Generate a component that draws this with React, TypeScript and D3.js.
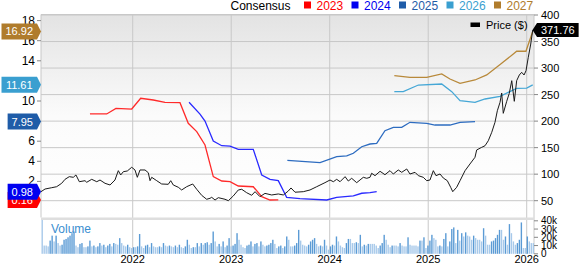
import React from 'react';
import * as d3 from 'd3';

// ---------- DATA ----------
const yearTicks = [2022, 2023, 2024, 2025, 2026];
const epsTicks = [18, 16, 14, 10, 6, 4, 2];
const priceTicks = [50, 100, 150, 200, 250, 300, 350, 400];
const volTicks = [0, 10, 20, 30, 40];
const volTickLabels = ['0', '10k', '20k', '30k', '40k'];

const priceDates = [2021.069, 2021.110, 2021.178, 2021.228, 2021.279, 2021.313, 2021.356, 2021.397, 2021.424, 2021.458, 2021.516, 2021.533, 2021.584, 2021.635, 2021.668, 2021.719, 2021.770, 2021.820, 2021.854, 2021.878, 2021.905, 2021.945, 2021.990, 2022.023, 2022.047, 2022.074, 2022.125, 2022.158, 2022.176, 2022.193, 2022.244, 2022.294, 2022.361, 2022.386, 2022.412, 2022.463, 2022.497, 2022.548, 2022.609, 2022.650, 2022.701, 2022.751, 2022.785, 2022.802, 2022.836, 2022.869, 2022.937, 2022.971, 2023.021, 2023.072, 2023.107, 2023.157, 2023.208, 2023.242, 2023.292, 2023.343, 2023.411, 2023.478, 2023.529, 2023.580, 2023.607, 2023.648, 2023.732, 2023.800, 2023.868, 2023.952, 2024.003, 2024.037, 2024.071, 2024.105, 2024.156, 2024.189, 2024.223, 2024.274, 2024.341, 2024.376, 2024.409, 2024.426, 2024.460, 2024.511, 2024.561, 2024.612, 2024.646, 2024.696, 2024.731, 2024.782, 2024.815, 2024.866, 2024.900, 2024.950, 2024.985, 2025.018, 2025.052, 2025.079, 2025.120, 2025.153, 2025.194, 2025.228, 2025.249, 2025.289, 2025.323, 2025.374, 2025.424, 2025.475, 2025.492, 2025.543, 2025.577, 2025.610, 2025.645, 2025.678, 2025.702, 2025.729, 2025.746, 2025.762, 2025.797, 2025.823, 2025.848, 2025.874, 2025.898, 2025.925, 2025.949, 2025.973, 2025.993, 2026.016, 2026.041, 2026.061];
const priceValues = [67, 72, 74.5, 76.4, 82.8, 90.3, 95.3, 94.1, 98.5, 85.8, 87.7, 84.7, 90.3, 85.8, 89, 82.8, 79.6, 89, 106.6, 98.5, 104.7, 106, 113, 107.9, 94.1, 107.9, 107.9, 102.8, 87.7, 94.1, 87.7, 81.5, 80.9, 87.7, 79.6, 75.3, 70.2, 76.4, 81.5, 71.5, 60, 52.7, 54.5, 56.4, 51.3, 55.7, 52.7, 50, 58.9, 70.2, 71.5, 65.1, 60.2, 67, 57.6, 63.8, 60.8, 62.7, 60.8, 68.3, 74, 66, 67, 70.2, 76.4, 84, 89, 85.8, 90.3, 85.8, 95.3, 87.1, 92.2, 84, 94.1, 92.2, 94.1, 101.7, 97.2, 105.4, 99, 106.6, 100.3, 107.9, 103.5, 109.8, 100.3, 103.5, 97.2, 94.1, 87.7, 89, 106.6, 97.2, 100.3, 92.8, 87.7, 75.3, 67, 75.3, 87.7, 106.6, 119.2, 131.8, 145.6, 150.6, 153.6, 163, 178.9, 197.8, 219.6, 235.4, 253, 214.7, 237.3, 252.4, 276.2, 237.3, 276.2, 286.9, 292, 286.9, 295, 320.3, 345.3, 371.76];

const eps2023Dates = [2021.566, 2021.736, 2021.830, 2021.990, 2022.081, 2022.209, 2022.328, 2022.480, 2022.564, 2022.650, 2022.734, 2022.818, 2022.904, 2022.988, 2023.072, 2023.224, 2023.310, 2023.394, 2023.478];
const eps2023Values = [8.71, 8.71, 9.27, 9.2, 10.27, 10.1, 9.87, 9.83, 7.78, 6.95, 5.62, 2.47, 2.04, 1.97, 1.54, 1.47, 0.48, 0.15, 0.16];

const eps2024Dates = [2022.572, 2022.683, 2022.734, 2022.818, 2022.904, 2022.988, 2023.072, 2023.224, 2023.310, 2023.394, 2023.478, 2023.563, 2023.698, 2023.970, 2024.071, 2024.240, 2024.325, 2024.409, 2024.477];
const eps2024Values = [9.87, 8.7, 8.0, 6.02, 5.55, 5.52, 5.19, 5.19, 2.64, 2.21, 2.07, 0.42, 0.28, 0.15, 0.42, 0.55, 0.82, 0.88, 0.98];

const eps2025Dates = [2023.570, 2023.902, 2024.071, 2024.173, 2024.240, 2024.325, 2024.409, 2024.477, 2024.561, 2024.646, 2024.731, 2024.815, 2024.985, 2025.069, 2025.221, 2025.323, 2025.475];
const eps2025Values = [4.1, 3.86, 4.46, 4.53, 4.8, 5.45, 5.72, 5.79, 7.04, 7.38, 7.38, 7.88, 7.78, 7.61, 7.61, 7.88, 7.95];

const eps2026Dates = [2024.656, 2024.747, 2024.900, 2025.137, 2025.239, 2025.323, 2025.475, 2025.577, 2025.729, 2025.898, 2026.000, 2026.061];
const eps2026Values = [10.93, 10.93, 11.59, 11.69, 10.93, 10.03, 9.87, 10.2, 10.47, 11.26, 11.29, 11.61];

const eps2027Dates = [2024.656, 2024.815, 2024.985, 2025.137, 2025.221, 2025.323, 2025.475, 2025.594, 2025.746, 2025.864, 2025.898, 2025.992, 2026.061];
const eps2027Values = [12.52, 12.36, 12.36, 12.69, 12.19, 11.76, 12.09, 12.59, 13.75, 14.68, 14.95, 14.95, 16.92];

const volumeValues = [41, 10, 10, 9, 16, 22, 15, 22, 13, 10, 11, 17, 18, 20, 22, 25, 27, 10, 8, 12, 13, 8, 8, 9, 16, 9, 10, 8, 9, 13, 10, 11, 8, 10, 12, 9, 13, 12, 11, 19, 13, 10, 9, 11, 8, 7, 8, 8, 9, 24, 9, 7, 10, 11, 8, 13, 9, 8, 8, 9, 8, 13, 10, 9, 10, 9, 8, 10, 8, 11, 8, 7, 9, 17, 11, 7, 8, 8, 13, 9, 13, 11, 13, 14, 11, 13, 27, 15, 9, 12, 9, 15, 8, 10, 19, 9, 10, 12, 25, 17, 11, 8, 7, 10, 11, 15, 9, 12, 13, 9, 15, 11, 9, 10, 11, 13, 17, 12, 7, 9, 10, 7, 9, 21, 17,
  9, 9, 10, 13, 29, 16, 11, 10, 9, 11, 15, 17, 19, 12, 9, 10, 9, 17, 10, 5, 9, 11, 10, 21, 15, 10, 8, 7, 13, 18, 18, 13, 13, 14, 13, 23, 9, 11, 10, 12, 12, 12, 12, 10, 7, 10, 13, 23, 17, 11, 8, 10, 10, 10, 9, 13, 10, 9, 9, 20, 11, 10, 10, 10, 9, 16, 16, 20, 7, 10, 16, 23, 19, 17, 9, 10, 9, 18, 25, 9, 15, 30, 32, 13, 29, 16, 25, 21, 26, 22, 21, 17, 22, 19, 17, 17, 15, 31, 22, 11, 11, 15, 16, 19, 23, 29, 29, 17, 21, 11, 36, 25, 15, 11, 13, 17, 38, 7, 7, 21, 15, 13, 13];

const legendYears = ['2023', '2024', '2025', '2026', '2027'];
const seriesColors = ['#ff2a2a', '#2a2aff', '#2d6cc0', '#45a7d6', '#b8893a'];
const flagColors = ['#ff0000', '#0000f0', '#1f5ca8', '#3a9fd0', '#b07c2c'];

// ---------- LAYOUT ----------
const W = 579, H = 264;
const L = 41, R = 534, T = 14.5, MB = 217.5, VT = 219.5, VB = 254;
const FONT = 'Liberation Sans, Arial, Helvetica, sans-serif';

const x = d3.scaleLinear().domain([2021.069, 2026.074]).range([L, R]);
const yP = d3.scaleLinear().domain([400, 50]).range([15, 200.7]);
const yE = d3.scaleLinear().domain([10, 2]).range([101, 181.4]);
const yV = d3.scaleLinear().domain([0, 40]).range([253.8, 220.8]);
const xV = d3.scaleBand<number>().domain(volumeValues.map((_, i) => i)).range([L + 0.5, R]).paddingInner(0.3);

function textW(s: string, size: number) {
  let w = 0;
  for (const c of s) w += c === '.' ? 0.278 : 0.556;
  return w * size;
}

function LeftFlag({ v, color }: { v: number; color: string }) {
  const cy = yE(v);
  const label = v.toFixed(2);
  const tw = textW(label, 11);
  const x1 = 37, x0 = x1 - tw - 8, h = 16;
  const d = `M${x0},${cy - h / 2}H${x1}L${x1 + 4},${cy}L${x1},${cy + h / 2}H${x0}Z`;
  return (
    <g>
      <path d={d} fill={color} />
      <text x={(x0 + x1) / 2} y={cy + 4} fill="#fff" fontSize={11} textAnchor="middle" fontFamily={FONT}>{label}</text>
    </g>
  );
}

export default function App() {
  const series = [
    [eps2023Dates, eps2023Values],
    [eps2024Dates, eps2024Values],
    [eps2025Dates, eps2025Values],
    [eps2026Dates, eps2026Values],
    [eps2027Dates, eps2027Values],
  ];
  const mk = (ds: number[], vs: number[], ys: d3.ScaleLinear<number, number>) =>
    d3.line<number>().x((d) => x(d)).y((_, i) => ys(vs[i]))(ds) || '';

  const lastPrice = priceValues[priceValues.length - 1];
  const pY = yP(lastPrice);
  const pLabel = lastPrice.toFixed(2);
  const pw = textW(pLabel, 11) + 8;

  return (
    <svg width={W} height={H} style={{ position: 'absolute', left: 0, top: 0, display: 'block' }} fontFamily={FONT}>
      <defs>
        <linearGradient id="bg" x1="0" y1="0" x2="0" y2="1">
          <stop offset="0" stopColor="#e3e3e3" />
          <stop offset="0.5" stopColor="#fbfbfb" />
          <stop offset="1" stopColor="#ffffff" />
        </linearGradient>
        <clipPath id="clipMain"><rect x={L} y={T} width={R - L} height={MB - T} /></clipPath>
      </defs>
      <rect x={0} y={0} width={W} height={H} fill="#fff" />
      <rect x={L} y={T} width={R - L} height={MB - T} fill="url(#bg)" />

      {priceTicks.map((t) => (
        <line key={'g' + t} x1={L} x2={R} y1={yP(t)} y2={yP(t)} stroke="#c8c8c8" strokeWidth={1} />
      ))}
      {yearTicks.map((t) => (
        <line key={'v' + t} x1={x(t)} x2={x(t)} y1={T} y2={VB} stroke="#c8c8c8" strokeWidth={1} />
      ))}
      <line x1={L} x2={R} y1={T} y2={T} stroke="#c8c8c8" />
      <line x1={L} x2={L} y1={T} y2={MB} stroke="#c8c8c8" />
      <line x1={R} x2={R} y1={T} y2={VB} stroke="#c8c8c8" />
      <rect x={L} y={MB} width={R - L} height={VT - MB + 0.5} fill="#dedede" />

      {volumeValues.map((v, i) => (
        <rect key={'b' + i} x={xV(i)} y={yV(v)} width={xV.bandwidth()} height={yV(0) - yV(v)}
          fill={i > 0 && v > volumeValues[i - 1] ? '#5b9bd5' : '#a7c9ea'} />
      ))}
      <text x={51} y={233} fontSize={12} fill="#3a8ed0">Volume</text>

      <g clipPath="url(#clipMain)">
        {series.map(([ds, vs], i) => (
          <path key={'s' + i} d={mk(ds, vs, yE)} fill="none" stroke={seriesColors[i]} strokeWidth={1.3} />
        ))}
        <path d={mk(priceDates, priceValues, yP)} fill="none" stroke="#1a1a1a" strokeWidth={1} />
      </g>

      <rect x={470.5} y={22.5} width={9.5} height={4.5} fill="#000" />
      <text x={486} y={28.5} fontSize={11} fill="#000">Price ($)</text>

      {priceTicks.map((t) => (
        <g key={'r' + t}>
          <line x1={R} x2={R + 4} y1={yP(t)} y2={yP(t)} stroke="#888" />
          <text x={541} y={yP(t) + 4} fontSize={11} fill="#000">{t}</text>
        </g>
      ))}
      {volTicks.map((t, i) => (
        <g key={'vt' + t}>
          <line x1={R} x2={R + 4} y1={yV(t)} y2={yV(t)} stroke="#888" />
          <text x={541} y={yV(t) + 3.5} fontSize={10} fill="#000">{volTickLabels[i]}</text>
        </g>
      ))}

      {epsTicks.map((t) => (
        <g key={'l' + t}>
          <line x1={L - 4} x2={L} y1={yE(t)} y2={yE(t)} stroke="#888" />
          <text x={35} y={yE(t) + 4} fontSize={12} fill="#000" textAnchor="end">{t}</text>
        </g>
      ))}

      {yearTicks.map((t) => (
        <text key={'y' + t} x={x(t)} y={263} fontSize={11} textAnchor="middle" fill="#000">{t}</text>
      ))}

      {series.map(([, vs], i) => (
        <LeftFlag key={'f' + i} v={vs[vs.length - 1]} color={flagColors[i]} />
      ))}

      <path d={`M${R - 1.5},${pY}L${R + 3},${pY - 7}H${R + 3 + pw}V${pY + 7}H${R + 3}Z`} fill="#000" />
      <text x={R + 3 + pw / 2} y={pY + 4} fontSize={11} fill="#fff" textAnchor="middle">{pLabel}</text>

      <text x={230.5} y={10} fontSize={12} fill="#000">Consensus</text>
      {legendYears.map((yr, i) => (
        <g key={'lg' + yr}>
          <rect x={304 + i * 47.5} y={1.5} width={7} height={7} fill={flagColors[i]} />
          <text x={316.5 + i * 47.5} y={10} fontSize={12} fill={flagColors[i]}>{yr}</text>
        </g>
      ))}
    </svg>
  );
}
